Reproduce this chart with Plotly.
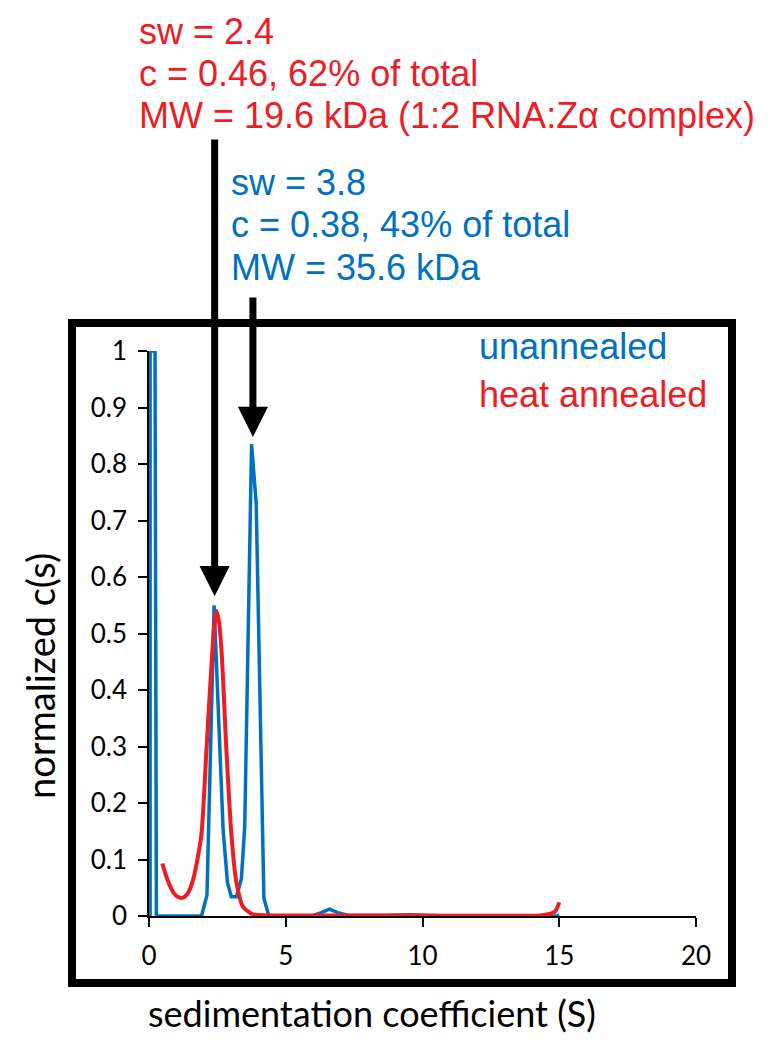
import plotly.graph_objects as go

# ---- data ----
blue_s = [0.04, 0.04, 0.22, 0.27, 1.92, 2.12, 2.38, 2.71, 2.87, 3.01, 3.20, 3.38, 3.50,
          3.75, 3.92, 4.20, 4.38, 6.00, 6.30, 6.60, 6.90, 7.30, 8.50, 9.50, 10.30, 11.0,
          14.9, 15.0]
blue_c = [0.0, 1.0, 1.0, 0.0, 0.0, 0.037, 0.55, 0.152, 0.059, 0.034, 0.034, 0.067, 0.158,
          0.835, 0.73, 0.032, 0.0, 0.001, 0.006, 0.012, 0.006, 0.001, 0.001, 0.002, 0.001, 0.0,
          0.0, 0.002]

red_s = [0.49, 0.60, 0.75, 0.90, 1.05, 1.18, 1.30, 1.45, 1.61, 1.75, 1.92, 2.10, 2.28,
         2.38, 2.47, 2.56, 2.65, 2.83, 3.01, 3.20, 3.44, 3.80, 4.50, 8.00, 14.3, 14.6,
         14.85, 15.0]
red_c = [0.093, 0.075, 0.055, 0.041, 0.034, 0.032, 0.034, 0.043, 0.064, 0.095, 0.146, 0.294,
         0.441, 0.51, 0.54, 0.52, 0.471, 0.294, 0.146, 0.058, 0.016, 0.003, 0.001, 0.001,
         0.001, 0.003, 0.008, 0.024]

x_ticks = [0, 5, 10, 15, 20]
y_ticks = [0, 0.1, 0.2, 0.3, 0.4, 0.5, 0.6, 0.7, 0.8, 0.9, 1]
y_tick_labels = ["0", "0.1", "0.2", "0.3", "0.4", "0.5", "0.6", "0.7", "0.8", "0.9", "1"]

series_names = ["unannealed", "heat annealed"]
red_notes = ["sw = 2.4", "c = 0.46, 62% of total", "MW = 19.6 kDa (1:2 RNA:Zα complex)"]
blue_notes = ["sw = 3.8", "c = 0.38, 43% of total", "MW = 35.6 kDa"]
peak_s = [2.4, 3.8]           # sw values the arrows point to
peak_top = [0.566, 0.848]     # arrow tip heights

BLUE = "#0070C0"
RED = "#EE1C25"

# ---- layout geometry (pixels) ----
W, H = 774, 1050
L, R, T, B = 149, 696, 351, 916


def px(x):
    return (x - L) / (R - L)


def py(y):
    return (B - y) / (B - T)


fig = go.Figure()
fig.add_trace(go.Scatter(x=blue_s, y=blue_c, mode="lines", name=series_names[0],
                         line=dict(color=BLUE, width=3.5), cliponaxis=False))
fig.add_trace(go.Scatter(x=red_s, y=red_c, mode="lines", name=series_names[1],
                         line=dict(color=RED, width=4, shape="spline", smoothing=0.7),
                         cliponaxis=False))

ann_font = "Liberation Sans, Arial, sans-serif"
annotations = []
red_y = [31, 73, 115]
for t, yy in zip(red_notes, red_y):
    annotations.append(dict(text=t, xref="paper", yref="paper", x=px(137), y=py(yy),
                            xanchor="left", yanchor="middle", showarrow=False,
                            font=dict(family=ann_font, size=36, color=RED)))
blue_y = [183, 225, 268]
for t, yy in zip(blue_notes, blue_y):
    annotations.append(dict(text=t, xref="paper", yref="paper", x=px(229), y=py(yy),
                            xanchor="left", yanchor="middle", showarrow=False,
                            font=dict(family=ann_font, size=36, color=BLUE)))
# legend-like labels
for t, yy, c in zip(series_names, [346, 394], [BLUE, RED]):
    annotations.append(dict(text=t, xref="paper", yref="paper", x=px(477), y=py(yy),
                            xanchor="left", yanchor="middle", showarrow=False,
                            font=dict(family=ann_font, size=36, color=c)))
# arrows
tails = [138, 296]
for s, top, tail in zip(peak_s, peak_top, tails):
    tip_px = B - top * (B - T)
    annotations.append(dict(text="", x=s, y=top, xref="x", yref="y", showarrow=True,
                            ax=0, ay=-(tip_px - tail), arrowhead=2, arrowsize=0.86,
                            arrowwidth=7, arrowcolor="black", standoff=0))
# axis titles
annotations.append(dict(text="normalized c(s)", xref="paper", yref="paper", x=px(40),
                        y=py(676), textangle=-90, showarrow=False, xanchor="center",
                        yanchor="middle",
                        font=dict(family="Lato, sans-serif", size=38, color="black")))
annotations.append(dict(text="sedimentation coefficient (S)", xref="paper", yref="paper",
                        x=px(372), y=py(1013), showarrow=False, xanchor="center",
                        yanchor="middle",
                        font=dict(family="Lato, sans-serif", size=36, color="black")))

fig.update_layout(
    width=W, height=H,
    margin=dict(l=L, r=W - R, t=T, b=H - B, pad=0),
    paper_bgcolor="white", plot_bgcolor="white",
    showlegend=False,
    annotations=annotations,
    shapes=[dict(type="rect", xref="paper", yref="paper", x0=px(72), x1=px(732),
                 y0=py(983), y1=py(323), line=dict(color="black", width=8),
                 fillcolor="rgba(0,0,0,0)", layer="above")],
    xaxis=dict(range=[0, 20], tickvals=x_ticks, ticks="outside", ticklen=9, tickwidth=1.5,
               tickcolor="black", showline=True, linecolor="black", linewidth=1.5,
               showgrid=False, zeroline=False, ticklabelstandoff=7,
               tickfont=dict(family="Lato, sans-serif", size=26, color="black")),
    yaxis=dict(range=[0, 1], tickvals=y_ticks, ticktext=y_tick_labels, ticks="outside",
               ticklen=9, tickwidth=1.5, tickcolor="black", showline=True,
               linecolor="black", linewidth=1.5, showgrid=False, zeroline=False,
               ticklabelstandoff=6,
               tickfont=dict(family="Lato, sans-serif", size=26, color="black")),
)

fig.write_html("out.html", config={"displayModeBar": False},
               post_script="document.body.style.margin='0px';")
